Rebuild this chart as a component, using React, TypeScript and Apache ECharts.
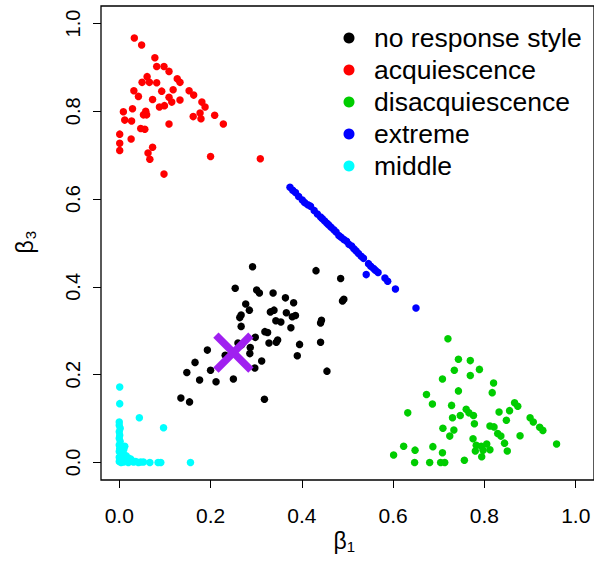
import React, { useEffect, useRef } from "react";
import * as echarts from "echarts";

// beta_1 / beta_3 estimates, one array per response-style group
const noResponse: [number, number][] = [
  [0.292, 0.446], [0.431, 0.437], [0.485, 0.419], [0.254, 0.397], [0.301, 0.393],
  [0.307, 0.386], [0.337, 0.386], [0.364, 0.375], [0.382, 0.364], [0.277, 0.361],
  [0.285, 0.347], [0.331, 0.343], [0.339, 0.347], [0.366, 0.341], [0.386, 0.335],
  [0.379, 0.332], [0.267, 0.336], [0.264, 0.330], [0.343, 0.323], [0.354, 0.320],
  [0.489, 0.368], [0.492, 0.372], [0.443, 0.324], [0.441, 0.318], [0.376, 0.307],
  [0.267, 0.310], [0.319, 0.298], [0.325, 0.296], [0.298, 0.285], [0.328, 0.272],
  [0.344, 0.274], [0.347, 0.279], [0.441, 0.274], [0.395, 0.269], [0.260, 0.272],
  [0.287, 0.262], [0.193, 0.256], [0.286, 0.248], [0.390, 0.243], [0.312, 0.231],
  [0.166, 0.228], [0.297, 0.215], [0.200, 0.210], [0.148, 0.205], [0.455, 0.208],
  [0.176, 0.188], [0.212, 0.184], [0.250, 0.190], [0.135, 0.147], [0.154, 0.138],
  [0.318, 0.144], [0.268, 0.268], [0.232, 0.244],
];

const acquiescence: [number, number][] = [
  [0.033, 0.967], [0.049, 0.951], [0.078, 0.922], [0.082, 0.902], [0.098, 0.902],
  [0.109, 0.891], [0.061, 0.879], [0.050, 0.866], [0.066, 0.866], [0.082, 0.865],
  [0.127, 0.874], [0.133, 0.866], [0.032, 0.847], [0.042, 0.834], [0.093, 0.846],
  [0.118, 0.849], [0.153, 0.847], [0.163, 0.837], [0.073, 0.827], [0.109, 0.832],
  [0.115, 0.821], [0.133, 0.826], [0.099, 0.813], [0.088, 0.810], [0.181, 0.821],
  [0.188, 0.810], [0.177, 0.796], [0.162, 0.788], [0.179, 0.783], [0.209, 0.791],
  [0.228, 0.771], [0.009, 0.799], [0.029, 0.806], [0.012, 0.780], [0.027, 0.778],
  [0.053, 0.792], [0.060, 0.792], [0.058, 0.800], [0.109, 0.771], [0.047, 0.761],
  [0.056, 0.759], [0.001, 0.748], [0.026, 0.737], [0.001, 0.727], [0.001, 0.711],
  [0.073, 0.718], [0.063, 0.705], [0.067, 0.691], [0.098, 0.657], [0.200, 0.697],
  [0.309, 0.692],
];

const disacquiescence: [number, number][] = [
  [0.720, 0.282], [0.743, 0.235], [0.769, 0.232], [0.734, 0.210], [0.789, 0.212],
  [0.769, 0.198], [0.708, 0.190], [0.820, 0.181], [0.743, 0.163], [0.817, 0.159],
  [0.673, 0.155], [0.686, 0.133], [0.728, 0.130], [0.866, 0.136], [0.873, 0.128],
  [0.632, 0.113], [0.760, 0.121], [0.766, 0.113], [0.776, 0.107], [0.747, 0.107],
  [0.730, 0.102], [0.832, 0.115], [0.855, 0.118], [0.848, 0.096], [0.900, 0.102],
  [0.907, 0.092], [0.778, 0.088], [0.812, 0.083], [0.821, 0.081], [0.921, 0.080],
  [0.928, 0.073], [0.709, 0.078], [0.733, 0.074], [0.724, 0.060], [0.829, 0.066],
  [0.836, 0.060], [0.878, 0.061], [0.775, 0.054], [0.958, 0.042], [0.844, 0.044],
  [0.782, 0.039], [0.793, 0.037], [0.805, 0.042], [0.780, 0.026], [0.797, 0.028],
  [0.812, 0.029], [0.794, 0.013], [0.850, 0.026], [0.623, 0.037], [0.687, 0.036],
  [0.648, 0.028], [0.708, 0.022], [0.601, 0.017], [0.647, 0.000], [0.680, 0.000],
  [0.704, 0.000], [0.713, 0.000], [0.756, 0.005],
];

const extreme: [number, number][] = [
  [0.374, 0.627], [0.380, 0.620], [0.386, 0.615], [0.393, 0.606], [0.401, 0.598],
  [0.406, 0.592], [0.413, 0.587], [0.419, 0.584], [0.427, 0.574], [0.434, 0.566],
  [0.441, 0.559], [0.445, 0.555], [0.450, 0.550], [0.455, 0.545], [0.459, 0.541],
  [0.464, 0.536], [0.470, 0.530], [0.475, 0.525], [0.481, 0.517], [0.486, 0.513],
  [0.492, 0.508], [0.498, 0.504], [0.503, 0.497], [0.509, 0.493], [0.514, 0.487],
  [0.519, 0.482], [0.524, 0.476], [0.530, 0.470], [0.535, 0.465], [0.546, 0.453],
  [0.551, 0.447], [0.557, 0.442], [0.561, 0.438], [0.567, 0.433], [0.541, 0.428],
  [0.582, 0.420], [0.588, 0.413], [0.605, 0.395], [0.650, 0.352],
];

const middle: [number, number][] = [
  [0.001, 0.172], [0.001, 0.134], [0.044, 0.102], [0.097, 0.079],
  [0.000, 0.092], [0.000, 0.085], [0.002, 0.078], [0.000, 0.070], [0.001, 0.062],
  [0.000, 0.055], [0.002, 0.048], [0.000, 0.040], [0.001, 0.032], [0.000, 0.025],
  [0.003, 0.018], [0.000, 0.012], [0.001, 0.006], [0.000, 0.002],
  [0.012, 0.037], [0.010, 0.030], [0.008, 0.022], [0.015, 0.015], [0.020, 0.010],
  [0.006, 0.012], [0.025, 0.008], [0.018, 0.004], [0.030, 0.003],
  [0.009, 0.001], [0.020, 0.000], [0.031, 0.001], [0.042, 0.000], [0.053, 0.001],
  [0.067, 0.000], [0.085, 0.000], [0.091, 0.000], [0.156, 0.000], [0.004, 0.000],
  [0.014, 0.002], [0.036, 0.002], [0.047, 0.001],
];

// overall centre marked with a cross
const crossCenter: [number, number][] = [[0.25, 0.25]];

const tickValues = [0, 0.2, 0.4, 0.6, 0.8, 1.0];

const groupNames = ["no response style", "acquiescence", "disacquiescence", "extreme", "middle"];
const groupColors = ["#000000", "#FF0000", "#00CD00", "#0000FF", "#00FFFF"];

const FONT = "'Liberation Sans', Arial, Helvetica, sans-serif";

export default function App() {
  const ref = useRef<HTMLDivElement>(null);

  useEffect(() => {
    if (!ref.current) return;
    const chart = echarts.init(ref.current, undefined, { renderer: "svg" });
    const groups = [noResponse, acquiescence, disacquiescence, extreme, middle];

    const axisCommon = {
      type: "value" as const,
      min: -0.04,
      max: 1.04,
      axisLine: { show: false, onZero: false },
      splitLine: { show: false },
      axisTick: {
        show: true,
        customValues: tickValues,
        length: 8,
        lineStyle: { color: "#000", width: 1 },
      },
    };

    chart.setOption({
      animation: false,
      backgroundColor: "#fff",
      grid: {
        left: 101,
        top: 6,
        width: 494,
        height: 474,
        show: true,
        borderColor: "#000",
        borderWidth: 1.3,
        backgroundColor: "transparent",
      },
      xAxis: {
        ...axisCommon,
        axisLabel: {
          customValues: tickValues,
          formatter: (v: number) => v.toFixed(1),
          fontSize: 21,
          fontFamily: FONT,
          color: "#000",
          margin: 25,
        },
      },
      yAxis: {
        ...axisCommon,
        axisLabel: {
          customValues: tickValues,
          formatter: (v: number) => v.toFixed(1),
          fontSize: 20,
          fontFamily: FONT,
          color: "#000",
          rotate: 90,
          margin: 18,
        },
      },
      legend: {
        data: groupNames,
        orient: "vertical",
        left: 338.5,
        top: 17,
        itemGap: 0,
        itemWidth: 11,
        itemHeight: 11,
        icon: "circle",
        selectedMode: false,
        textStyle: {
          fontSize: 26.5,
          fontFamily: FONT,
          color: "#000",
          lineHeight: 32,
          padding: [0, 0, 0, 14.5],
        },
      },
      graphic: [
        {
          type: "group",
          x: 340,
          y: 541,
          children: [
            {
              type: "text",
              x: 0,
              y: 0,
              style: { text: "β", fontSize: 23, fontFamily: FONT, fill: "#000", align: "center", verticalAlign: "middle" },
            },
            {
              type: "text",
              x: 11,
              y: 5,
              style: { text: "1", fontSize: 15, fontFamily: FONT, fill: "#000", align: "center", verticalAlign: "middle" },
            },
          ],
        },
        {
          type: "group",
          x: 25,
          y: 247,
          rotation: Math.PI / 2,
          children: [
            {
              type: "text",
              x: 0,
              y: 0,
              style: { text: "β", fontSize: 23, fontFamily: FONT, fill: "#000", align: "center", verticalAlign: "middle" },
            },
            {
              type: "text",
              x: 12,
              y: 5,
              style: { text: "3", fontSize: 15, fontFamily: FONT, fill: "#000", align: "center", verticalAlign: "middle" },
            },
          ],
        },
      ],
      series: [
        ...groups.map((data, i) => ({
          name: groupNames[i],
          type: "scatter" as const,
          data,
          symbol: "circle",
          symbolSize: 7.5,
          itemStyle: { color: groupColors[i], opacity: 1 },
          silent: true,
        })),
        {
          name: "centre",
          type: "custom" as const,
          data: crossCenter,
          silent: true,
          z: 10,
          renderItem: (_params: any, api: any) => {
            const c = api.coord([api.value(0), api.value(1)]);
            const d = 17.5;
            const style = { stroke: "#A020F0", lineWidth: 7.5, lineCap: "butt" };
            return {
              type: "group",
              children: [
                { type: "line", shape: { x1: c[0] - d, y1: c[1] - d, x2: c[0] + d, y2: c[1] + d }, style },
                { type: "line", shape: { x1: c[0] - d, y1: c[1] + d, x2: c[0] + d, y2: c[1] - d }, style },
              ],
            };
          },
        },
      ],
    });

    return () => chart.dispose();
  }, []);

  return (
    <div
      ref={ref}
      style={{ position: "fixed", left: 0, top: 0, width: 594, height: 561, background: "#fff" }}
    />
  );
}
